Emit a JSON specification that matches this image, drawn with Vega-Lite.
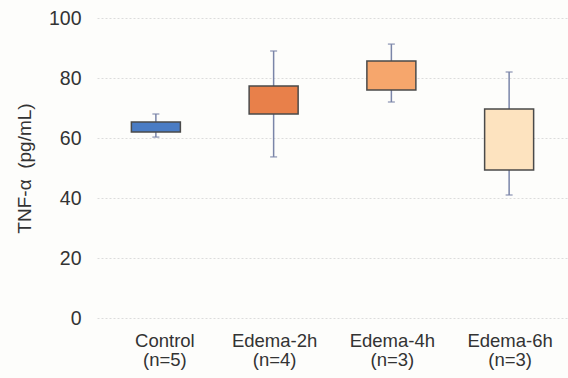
{
  "$schema": "https://vega.github.io/schema/vega-lite/v6.json",
  "width": 471,
  "height": 300,
  "autosize": {"type": "none"},
  "padding": {"left": 97, "top": 18, "right": 0, "bottom": 60},
  "background": "#fdfdfb",
  "config": {
    "view": {"stroke": null},
    "font": "Liberation Sans",
    "axis": {"labelFont": "Liberation Sans", "titleFont": "Liberation Sans", "labelColor": "#333", "titleColor": "#333"}
  },
  "data": {
    "values": [
      {"group": "Control|(n=5)", "lo": 60.3, "q1": 62, "q3": 65.3, "hi": 68, "c": "Control"},
      {"group": "Edema-2h|(n=4)", "lo": 53.7, "q1": 68, "q3": 77.3, "hi": 89, "c": "Edema-2h"},
      {"group": "Edema-4h|(n=3)", "lo": 72, "q1": 76, "q3": 85.7, "hi": 91.3, "c": "Edema-4h"},
      {"group": "Edema-6h|(n=3)", "lo": 41, "q1": 49.3, "q3": 69.7, "hi": 82, "c": "Edema-6h"}
    ]
  },
  "encoding": {
    "x": {
      "field": "group", "type": "nominal", "sort": null, "title": null,
      "axis": {"labelAngle": 0, "labelExpr": "split(datum.label, '|')", "labelFontSize": 18.5, "labelPadding": 13, "ticks": false, "domain": false, "labelLineHeight": 19,
        "labelOffset": {"condition": {"test": "datum.value == 'Control|(n=5)'", "value": 9}, "value": 1}}
    }
  },
  "layer": [
    {
      "mark": {"type": "rule", "color": "#7a85a8", "strokeWidth": 1.5},
      "encoding": {
        "y": {"field": "lo", "type": "quantitative", "scale": {"domain": [0, 100]}, "title": "TNF-α\u00a0\u00a0(pg/mL)",
          "axis": {"values": [0,10,20,30,40,50,60,70,80,90,100], "labelExpr": "datum.value % 20 == 0 ? datum.label : ''", "labelFontSize": 19.5, "titleFontSize": 19, "titleFontWeight": "normal", "labelPadding": 16, "titlePadding": 14, "ticks": false, "domain": false, "gridColor": "#dcdcdc", "gridDash": [2, 2], "gridWidth": 1}},
        "y2": {"field": "hi"}
      }
    },
    {
      "mark": {"type": "tick", "color": "#7a85a8", "thickness": 1.5, "size": 7},
      "encoding": {"y": {"field": "lo", "type": "quantitative"}}
    },
    {
      "mark": {"type": "tick", "color": "#7a85a8", "thickness": 1.5, "size": 7},
      "encoding": {"y": {"field": "hi", "type": "quantitative"}}
    },
    {
      "mark": {"type": "bar", "size": 49, "stroke": "#4a4a4a", "strokeWidth": 1.5},
      "encoding": {
        "y": {"field": "q1", "type": "quantitative"},
        "y2": {"field": "q3"},
        "color": {"field": "c", "type": "nominal", "legend": null,
          "scale": {"domain": ["Control", "Edema-2h", "Edema-4h", "Edema-6h"], "range": ["#4a7cc4", "#e8804a", "#f6a66c", "#fde3bf"]}}
      }
    }
  ]
}
